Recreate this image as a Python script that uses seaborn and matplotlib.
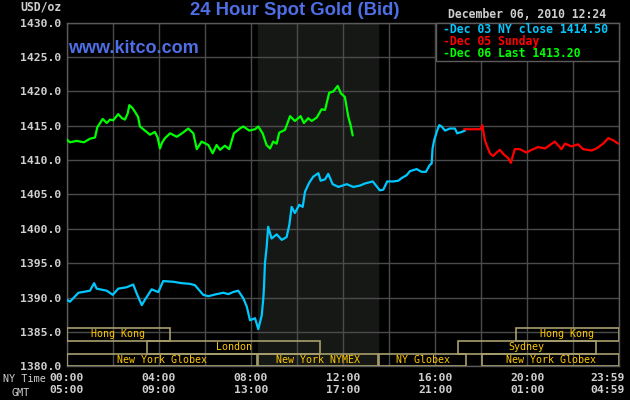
import numpy as np
import pandas as pd
import seaborn as sns
import matplotlib.pyplot as plt
from matplotlib.patches import Rectangle
from matplotlib import transforms

# hours after 00:00 NY time, bid in USD/oz
dec03_hour = [0, 0.14, 0.51, 1.01, 1.19, 1.3, 1.74, 2.0, 2.24, 2.6, 2.89, 3.04, 3.26, 3.4,
              3.69, 3.98, 4.19, 4.63, 4.99, 5.35, 5.57, 5.93, 6.15, 6.51, 6.8, 7.02, 7.23,
              7.45, 7.67, 7.82, 7.96, 8.18, 8.32, 8.47, 8.54, 8.57, 8.61, 8.68, 8.75, 8.9,
              9.12, 9.34, 9.55, 9.67, 9.77, 9.91, 10.1, 10.25, 10.35, 10.53, 10.71, 10.93,
              11.03, 11.22, 11.36, 11.55, 11.8, 12.16, 12.45, 12.74, 12.95, 13.29, 13.46,
              13.6, 13.75, 13.92, 14.18, 14.4, 14.55, 14.76, 14.91, 15.2, 15.41, 15.6,
              15.77, 15.85, 15.89, 15.96, 16.07, 16.18, 16.28, 16.43, 16.64, 16.86, 16.96,
              17.15, 17.3]
dec03_bid = [1389.7, 1389.4, 1390.7, 1391.0, 1392.1, 1391.3, 1391.0, 1390.4, 1391.3, 1391.5,
             1391.9, 1390.6, 1388.9, 1389.7, 1391.2, 1390.8, 1392.4, 1392.3, 1392.1, 1392.0,
             1391.8, 1390.4, 1390.2, 1390.5, 1390.7, 1390.5, 1390.8, 1391.0, 1389.9, 1388.7,
             1386.7, 1387.0, 1385.4, 1387.4, 1389.9, 1391.6, 1395.0, 1397.2, 1400.3, 1398.6,
             1399.2, 1398.4, 1398.8, 1400.6, 1403.2, 1402.3, 1403.5, 1403.2, 1405.4, 1406.7,
             1407.6, 1408.1, 1407.0, 1407.2, 1408.0, 1406.5, 1406.1, 1406.5, 1406.1, 1406.3,
             1406.6, 1406.9, 1406.2, 1405.6, 1405.7, 1406.9, 1406.9, 1407.0, 1407.4, 1407.8,
             1408.4, 1408.7, 1408.3, 1408.3, 1409.3, 1409.5, 1411.7, 1412.9, 1414.1, 1415.1,
             1414.9, 1414.3, 1414.6, 1414.6, 1413.9, 1414.1, 1414.3]

dec05_hour = [17.26, 17.97, 18.05, 18.16, 18.26, 18.38, 18.52, 18.67, 18.81, 18.96, 19.17,
              19.29, 19.46, 19.68, 19.97, 20.19, 20.48, 20.77, 20.99, 21.2, 21.49, 21.64,
              21.93, 22.21, 22.43, 22.8, 23.01, 23.3, 23.52, 23.73, 23.95]
dec05_bid = [1414.5, 1414.5, 1415.1, 1412.9, 1412.0, 1411.0, 1410.6, 1411.1, 1411.5, 1410.9,
             1410.3, 1409.6, 1411.6, 1411.6, 1411.1, 1411.5, 1411.9, 1411.7, 1412.2, 1412.7,
             1411.6, 1412.4, 1412.0, 1412.3, 1411.6, 1411.4, 1411.7, 1412.4, 1413.2, 1412.9,
             1412.4]

dec06_hour = [0, 0.14, 0.43, 0.75, 1.0, 1.23, 1.33, 1.45, 1.56, 1.74, 1.88, 2.02, 2.24, 2.4,
              2.53, 2.65, 2.72, 2.85, 2.97, 3.1, 3.18, 3.4, 3.62, 3.83, 3.95, 4.05, 4.15,
              4.27, 4.49, 4.78, 5.05, 5.28, 5.5, 5.65, 5.86, 6.15, 6.34, 6.51, 6.66, 6.87,
              7.06, 7.26, 7.52, 7.67, 7.93, 8.18, 8.32, 8.51, 8.68, 8.83, 8.97, 9.12, 9.23,
              9.48, 9.7, 9.91, 10.16, 10.3, 10.49, 10.64, 10.86, 11.07, 11.22, 11.32, 11.4,
              11.58, 11.77, 11.91, 12.08, 12.23, 12.33, 12.42]
dec06_bid = [1413.0, 1412.6, 1412.8, 1412.6, 1413.1, 1413.3, 1414.8, 1415.4, 1416.0, 1415.4,
             1415.9, 1415.8, 1416.7, 1416.1, 1415.9, 1416.8, 1418.0, 1417.6, 1417.0, 1416.3,
             1414.9, 1414.3, 1413.7, 1414.1, 1413.3, 1411.7, 1412.6, 1413.2, 1413.9, 1413.4,
             1414.0, 1414.6, 1413.9, 1411.6, 1412.7, 1412.2, 1411.0, 1412.2, 1411.5, 1412.1,
             1411.6, 1413.9, 1414.6, 1414.9, 1414.3, 1414.5, 1414.9, 1413.9, 1412.2, 1411.7,
             1412.7, 1412.4, 1414.0, 1414.4, 1416.4, 1415.7, 1416.4, 1415.4, 1416.1, 1415.7,
             1416.2, 1417.4, 1417.3, 1418.7, 1419.8, 1420.0, 1420.8, 1419.7, 1419.2, 1416.3,
             1415.1, 1413.6]

legend_labels = ['-Dec 03 NY close 1414.50', '-Dec 05 Sunday', '-Dec 06 Last 1413.20']
line_colors = ['#00C8FF', '#FF0000', '#00FF00']

# trading sessions drawn as boxes along the bottom (row 0 = lowest)
session_name = ['Hong Kong', 'London', 'New York Globex', 'New York NYMEX', 'NY Globex',
                'Hong Kong', 'Sydney', 'New York Globex']
session_start = [0, 3.5, 0, 8.33, 13.56, 19.5, 17.0, 18.05]
session_end = [4.47, 11.0, 8.26, 13.5, 17.35, 24, 22.97, 24]
session_row = [2, 1, 0, 0, 0, 2, 1, 0]
nymex_open, nymex_close = 8.33, 13.5

tick_hours = [0, 4, 8, 12, 16, 20, 23.983]
ny_labels = ['00:00', '04:00', '08:00', '12:00', '16:00', '20:00', '23:59']
gmt_labels = ['05:00', '09:00', '13:00', '17:00', '21:00', '01:00', '04:59']
price_ticks = [1380, 1385, 1390, 1395, 1400, 1405, 1410, 1415, 1420, 1425, 1430]

sns.set_style('dark', {'axes.facecolor': 'black', 'figure.facecolor': 'black',
                       'grid.color': '#4b4b4b', 'axes.edgecolor': '#5a5a5a'})
MONO = 'DejaVu Sans Mono'
GREY = '#cfcfcf'
BLUE = '#4f6fe6'

W, H = 630, 400
def fx(x): return x / W
def fy(y): return 1 - y / H

fig = plt.figure(figsize=(6.3, 4), dpi=100)
ax = fig.add_axes([fx(66.7), fy(366.3), (619.3 - 66.7) / W, (366.3 - 22.7) / H])

df = pd.concat([
    pd.DataFrame({'hour': dec03_hour, 'bid': dec03_bid, 'day': 'dec03'}),
    pd.DataFrame({'hour': dec05_hour, 'bid': dec05_bid, 'day': 'dec05'}),
    pd.DataFrame({'hour': dec06_hour, 'bid': dec06_bid, 'day': 'dec06'}),
], ignore_index=True)

ax.axvspan(nymex_open, nymex_close, color='#161816', zorder=0)
sns.lineplot(data=df, x='hour', y='bid', hue='day', palette=line_colors,
             estimator=None, sort=False, lw=1.6, legend=False, ax=ax, zorder=4)

row_h = 1.86
for name, s, e, r in zip(session_name, session_start, session_end, session_row):
    y0 = 1380 + r * row_h
    ax.add_patch(Rectangle((s, y0), e - s, row_h, fill=False, ec='#a89f6e', lw=1.2, zorder=3))
    ax.text((s + e) / 2, y0 + row_h / 2, name, ha='center', va='center',
            family=MONO, fontsize=7.2, color='#ffc800', zorder=5)

ax.set_xlim(0, 24)
ax.set_ylim(1380, 1430)
ax.set_yticks(price_ticks)
ax.set_yticklabels([f'{v:.1f}' for v in price_ticks])
ax.set_xticks(tick_hours)
ax.set_xticks([2, 6, 10, 14, 18, 22], minor=True)
ax.set_xticklabels([a + '\n' + b for a, b in zip(ny_labels, gmt_labels)])
ax.grid(True, which='both', color='#4b4b4b', lw=1)
ax.set_axisbelow(True)
ax.tick_params(length=0, which='both')
ax.tick_params(axis='x', pad=5)
ax.tick_params(axis='y', pad=4)
ax.set_xlabel('')
ax.set_ylabel('')
for sp in ax.spines.values():
    sp.set_color('#5a5a5a')
    sp.set_linewidth(1)

for lab in ax.get_xticklabels() + ax.get_yticklabels():
    lab.set_family(MONO)
    lab.set_weight('bold')
    lab.set_fontsize(8.2)
    lab.set_color(GREY)
    lab.set_linespacing(1.22)
last = ax.get_xticklabels()[-1]
last.set_horizontalalignment('right')
last.set_transform(last.get_transform() + transforms.ScaledTranslation(6 / 100, 0, fig.dpi_scale_trans))

# header texts
fig.text(fx(294.7), fy(10.5), '24 Hour Spot Gold (Bid)', ha='center', va='center',
         family='Liberation Sans', weight='bold', fontsize=13.3, color=BLUE)
fig.text(fx(68), fy(48.5), 'www.kitco.com', ha='left', va='center',
         family='Liberation Sans', weight='bold', fontsize=13, color=BLUE)
fig.text(fx(447.7), fy(14.5), 'December 06, 2010 12:24', ha='left', va='center',
         family=MONO, weight='bold', fontsize=8.3, color=GREY)
fig.text(fx(61.5), fy(7.5), 'USD/oz', ha='right', va='center',
         family=MONO, weight='bold', fontsize=8.3, color=GREY)
fig.text(fx(24), fy(379.5), 'NY Time', ha='center', va='center',
         family=MONO, fontsize=7.3, color=GREY)
fig.text(fx(21), fy(392.5), 'GMT', ha='center', va='center',
         family=MONO, fontsize=7.3, color=GREY)

# legend box in the upper right corner
fig.patches.append(Rectangle((fx(436), fy(61)), (619.3 - 436) / W, (61 - 22.7) / H,
                             transform=fig.transFigure, facecolor='black',
                             edgecolor='#5c5c5c', lw=1, zorder=2))
for lab, col, yy in zip(legend_labels, line_colors, [29.3, 41.7, 53.3]):
    fig.text(fx(442.7), fy(yy), lab, ha='left', va='center', family=MONO,
             weight='bold', fontsize=8.3, color=col, zorder=3)

fig.savefig('out.png', dpi=100, facecolor='black')
